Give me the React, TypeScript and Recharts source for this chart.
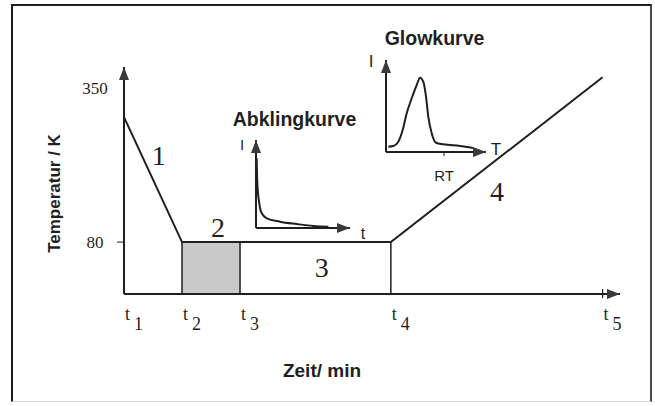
import React from "react";
import {
  ComposedChart,
  LineChart,
  Line,
  XAxis,
  YAxis,
  ReferenceArea,
  ReferenceLine,
  ReferenceDot,
  Label,
} from "recharts";

const INK = "#1f1f1f";
const ARROW = "#3a3a3a";
const SANS = "'Liberation Sans', Arial, Helvetica, sans-serif";
const SERIF = "'Liberation Serif', 'Times New Roman', Times, serif";

// temperature programme: time marks t1..t5 (arbitrary minutes), temperature in K
const timeMarks = [0, 10, 20, 46, 82.5];
const timeNames = ["1", "2", "3", "4", "5"];
const profileTimes = [0, 10, 46, 82.5];
const profileTemps = [299, 80, 80, 369];
const tempTicks = [80, 350];
const timeDomain = [0, 85.5];
const tempDomain = [-11, 387];

// inset: Abklingkurve (intensity vs time, relative units)
const decayTime = [0.7, 1.4, 3.5, 6.1, 11.4, 25.5, 43.3, 61, 77];
const decayIntensity = [79.2, 50.8, 28.1, 16.7, 11.0, 7.2, 4.5, 2.3, 1.5];

// inset: Glowkurve (intensity vs temperature, relative units)
const glowTemp = [2.3, 7.3, 12.3, 16.7, 20.7, 25.7, 30.7, 34, 37.3, 40, 42.3, 45.7, 50, 57.3, 74, 87];
const glowIntensity = [5.8, 6.5, 11.2, 23.9, 42.1, 58.4, 72.8, 80.8, 76.4, 60.1, 38.4, 20.3, 10.1, 8.4, 6.5, 4.3];
const roomTemp = [58];

function UpArrow({ cx, cy, text, tx, ty, size }: any) {
  return (
    <g>
      <polygon points={`${cx},${cy} ${cx - 5},${cy + 13} ${cx + 5},${cy + 13}`} fill={ARROW} />
      {text && (
        <text x={cx + tx} y={cy + ty} textAnchor="middle" fontFamily={SANS} fontSize={size} fill={INK}>
          {text}
        </text>
      )}
    </g>
  );
}

function RightArrow({ cx, cy, text, tx, ty, size }: any) {
  return (
    <g>
      <polygon points={`${cx},${cy} ${cx - 13},${cy - 5} ${cx - 13},${cy + 5}`} fill={ARROW} />
      {text && (
        <text x={cx + tx} y={cy + ty} textAnchor="middle" fontFamily={SANS} fontSize={size} fill={INK}>
          {text}
        </text>
      )}
    </g>
  );
}

function TimeTick(props: any) {
  const { x, y, payload } = props;
  const i = timeMarks.indexOf(payload.value);
  return (
    <g>
      {i === timeMarks.length - 1 && (
        <line x1={x} x2={x} y1={y - 5} y2={y + 4} stroke={INK} strokeWidth={1.2} />
      )}
      <text x={x + 1} y={y + 26} fontFamily={SERIF} fontSize={18} fill={INK}>
        t
      </text>
      <text x={x + 10} y={y + 36} fontFamily={SERIF} fontSize={18} fill={INK}>
        {timeNames[i]}
      </text>
    </g>
  );
}

function TempTick(props: any) {
  const { x, y, payload } = props;
  return (
    <g>
      {payload.value === 80 && <line x1={x - 7} x2={x} y1={y} y2={y} stroke={INK} strokeWidth={1} />}
      <text x={x - 29} y={y} textAnchor="middle" dominantBaseline="central" fontFamily={SERIF} fontSize={17} fill={INK}>
        {payload.value}
      </text>
    </g>
  );
}

function XTitle(props: any) {
  const vb = props.viewBox;
  return (
    <text x={vb.x + vb.width / 2 - 50} y={vb.y + 83} textAnchor="middle" fontFamily={SANS} fontWeight="bold" fontSize={19} fill={INK}>
      Zeit/ min
    </text>
  );
}

function YTitle(props: any) {
  const vb = props.viewBox;
  const cx = vb.x - 30;
  const cy = vb.y + vb.height / 2 + 13;
  return (
    <text x={cx} y={cy} transform={`rotate(-90, ${cx}, ${cy})`} textAnchor="middle" dominantBaseline="central" fontFamily={SANS} fontWeight="bold" fontSize={17} fill={INK}>
      Temperatur / K
    </text>
  );
}

function PhaseNumber({ cx, cy, n }: any) {
  return (
    <text x={cx} y={cy} textAnchor="middle" dominantBaseline="central" fontFamily={SERIF} fontSize={28} fill={INK}>
      {n}
    </text>
  );
}

function ProfileChart() {
  const data = profileTimes.map((t, i) => ({ time: t, temp: profileTemps[i] }));
  const bottom = tempDomain[0];
  return (
    <ComposedChart
      width={655}
      height={406}
      data={data}
      margin={{ top: 67, right: 35, bottom: 82, left: 84 }}
      style={{ position: "absolute", left: 0, top: 0 }}
    >
      <XAxis
        type="number"
        dataKey="time"
        domain={timeDomain}
        ticks={timeMarks}
        interval={0}
        height={30}
        tickSize={0}
        tickMargin={0}
        tickLine={false}
        axisLine={{ stroke: INK, strokeWidth: 2 }}
        tick={<TimeTick />}
        label={<Label content={XTitle} />}
      />
      <YAxis
        type="number"
        domain={tempDomain}
        ticks={tempTicks}
        interval={0}
        width={40}
        tickSize={0}
        tickMargin={0}
        tickLine={false}
        axisLine={{ stroke: INK, strokeWidth: 2 }}
        tick={<TempTick />}
        label={<Label content={YTitle} />}
      />
      <ReferenceArea
        x1={timeMarks[1]}
        x2={timeMarks[2]}
        y1={bottom}
        y2={80}
        fill="#c9c9c9"
        fillOpacity={1}
        stroke={INK}
        strokeWidth={1.5}
        ifOverflow="visible"
      />
      <ReferenceLine
        segment={[{ x: timeMarks[3], y: bottom }, { x: timeMarks[3], y: 80 }]}
        stroke={INK}
        strokeWidth={1.5}
      />
      <Line type="linear" dataKey="temp" stroke={INK} strokeWidth={2} dot={false} activeDot={false} isAnimationActive={false} />
      <ReferenceDot x={0} y={tempDomain[1]} r={1} ifOverflow="visible" shape={(p: any) => <UpArrow cx={p.cx} cy={p.cy} />} />
      <ReferenceDot x={timeDomain[1]} y={bottom} r={1} ifOverflow="visible" shape={(p: any) => <RightArrow cx={p.cx} cy={p.cy} />} />
      <ReferenceDot x={6} y={232} r={1} ifOverflow="visible" shape={(p: any) => <PhaseNumber cx={p.cx} cy={p.cy} n="1" />} />
      <ReferenceDot x={16.2} y={106} r={1} ifOverflow="visible" shape={(p: any) => <PhaseNumber cx={p.cx} cy={p.cy} n="2" />} />
      <ReferenceDot x={34.1} y={36} r={1} ifOverflow="visible" shape={(p: any) => <PhaseNumber cx={p.cx} cy={p.cy} n="3" />} />
      <ReferenceDot x={64.3} y={168} r={1} ifOverflow="visible" shape={(p: any) => <PhaseNumber cx={p.cx} cy={p.cy} n="4" />} />
    </ComposedChart>
  );
}

function DecayInset() {
  const data = decayTime.map((t, i) => ({ t, i: decayIntensity[i] }));
  return (
    <LineChart
      width={140}
      height={122}
      data={data}
      margin={{ top: 13, right: 26, bottom: 20, left: 19 }}
      style={{ position: "absolute", left: 236, top: 127 }}
    >
      <XAxis type="number" dataKey="t" domain={[0, 100]} height={1} tick={false} tickLine={false} axisLine={{ stroke: INK, strokeWidth: 2 }} />
      <YAxis type="number" domain={[0, 100]} width={1} tick={false} tickLine={false} axisLine={{ stroke: INK, strokeWidth: 2 }} />
      <Line type="monotone" dataKey="i" stroke={INK} strokeWidth={2} dot={false} activeDot={false} isAnimationActive={false} />
      <ReferenceDot x={0} y={100} r={1} ifOverflow="visible" shape={(p: any) => <UpArrow cx={p.cx} cy={p.cy} text="I" tx={-14} ty={10} size={15} />} />
      <ReferenceDot x={100} y={0} r={1} ifOverflow="visible" shape={(p: any) => <RightArrow cx={p.cx} cy={p.cy} text="t" tx={13} ty={11} size={16} />} />
    </LineChart>
  );
}

function GlowInset() {
  const data = glowTemp.map((T, i) => ({ T, i: glowIntensity[i] }));
  return (
    <LineChart
      width={150}
      height={140}
      data={data}
      margin={{ top: 14, right: 24, bottom: 0, left: 25 }}
      style={{ position: "absolute", left: 360, top: 46 }}
    >
      <XAxis
        type="number"
        dataKey="T"
        domain={[0, 100]}
        ticks={roomTemp}
        interval={0}
        height={34}
        tickSize={4}
        tickMargin={14}
        tickFormatter={() => "RT"}
        tick={{ fill: INK, fontSize: 15, fontFamily: SANS }}
        tickLine={{ stroke: INK, strokeWidth: 1 }}
        axisLine={{ stroke: INK, strokeWidth: 2 }}
      />
      <YAxis type="number" domain={[0, 100]} width={1} tick={false} tickLine={false} axisLine={{ stroke: INK, strokeWidth: 2 }} />
      <Line type="monotone" dataKey="i" stroke={INK} strokeWidth={2} dot={false} activeDot={false} isAnimationActive={false} />
      <ReferenceDot x={0} y={100} r={1} ifOverflow="visible" shape={(p: any) => <UpArrow cx={p.cx} cy={p.cy} text="I" tx={-15} ty={7} size={17} />} />
      <ReferenceDot x={100} y={0} r={1} ifOverflow="visible" shape={(p: any) => <RightArrow cx={p.cx} cy={p.cy} text="T" tx={10} ty={3} size={17} />} />
    </LineChart>
  );
}

const titleStyle: React.CSSProperties = {
  position: "absolute",
  transform: "translateX(-50%)",
  fontFamily: SANS,
  fontWeight: "bold",
  fontSize: 19.5,
  lineHeight: 1,
  whiteSpace: "nowrap",
  color: INK,
};

export default function App() {
  return (
    <div style={{ position: "relative", width: 655, height: 406, background: "#fff", overflow: "hidden" }}>
      <style>{"body{margin:0}"}</style>
      <div
        style={{
          position: "absolute",
          left: 11,
          top: 4,
          width: 641,
          height: 398,
          boxSizing: "border-box",
          borderTop: "2px solid #1e1e1e",
          borderLeft: "2px solid #1e1e1e",
          borderRight: "2px solid #4a4a4a",
          borderBottom: "1px solid #d8d8d8",
        }}
      />
      <ProfileChart />
      <DecayInset />
      <GlowInset />
      <div style={{ ...titleStyle, left: 294.5, top: 109.5 }}>Abklingkurve</div>
      <div style={{ ...titleStyle, left: 434.5, top: 28.5 }}>Glowkurve</div>
    </div>
  );
}
